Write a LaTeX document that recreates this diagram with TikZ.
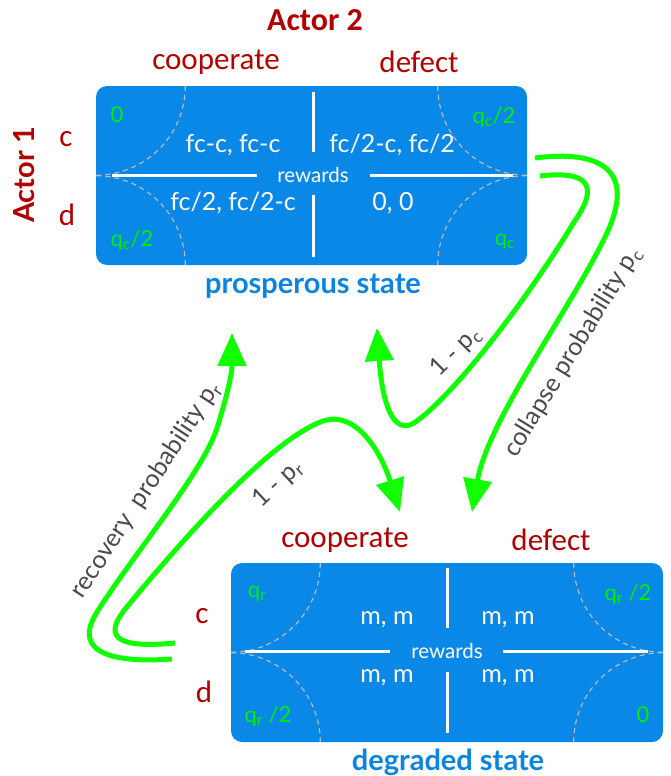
\documentclass[tikz,border=0pt]{standalone}
\usepackage{fontspec}
\setmainfont{Lato}
\newfontfamily\carl{Carlito}
\usetikzlibrary{arrows.meta}
\definecolor{boxblue}{HTML}{0A88E8}
\definecolor{ttlblue}{HTML}{0A84E0}
\definecolor{actred}{HTML}{B00000}
\definecolor{cgreen}{HTML}{00EE00}
\definecolor{agreen}{HTML}{11FF00}
\definecolor{lblgray}{HTML}{4A4A4A}
\newcommand\sbs[1]{\textsubscript{#1}}
\begin{document}
\begin{tikzpicture}[x=1pt,y=-1pt,
  statebox/.style={fill=boxblue, rounded corners=11pt, minimum width=431pt, minimum height=179pt, inner sep=0pt},
  sepline/.style={draw=white, line width=3pt},
  arcline/.style={draw=gray!50, dash pattern=on 5pt off 4pt, line width=1.1pt},
  cell/.style={text=white, font=\fontsize{25}{28}\selectfont, inner sep=0pt},
  rew/.style={text=white, font=\fontsize{20.5}{22}\selectfont, inner sep=0pt},
  corner/.style={text=cgreen, font=\fontsize{22}{24}\selectfont, inner sep=0pt},
  act/.style={text=actred, font=\carl\fontsize{31}{33}\selectfont, inner sep=0pt},
  actb/.style={text=actred, font=\carl\bfseries\fontsize{32}{34}\selectfont, inner sep=0pt},
  ttl/.style={text=ttlblue, font=\bfseries\fontsize{29}{31}\selectfont, inner sep=0pt},
  flow/.style={draw=agreen, line width=5pt, -{Triangle[length=33pt,width=28pt]}},
  flowlbl/.style={text=lblgray, font=\fontsize{25}{27}\selectfont, inner sep=0pt},
]
\useasboundingbox (0,0) rectangle (671,776);

% ---------- prosperous state ----------
\node[statebox] (top) at (311.5,175.5) {};
\draw[arcline] ([xshift=89.5pt]top.north west) arc[start angle=0,end angle=-90,radius=89.5pt];
\draw[arcline] ([xshift=-89.5pt]top.north east) arc[start angle=180,end angle=270,radius=89.5pt];
\draw[arcline] ([xshift=89.5pt]top.south west) arc[start angle=0,end angle=90,radius=89.5pt];
\draw[arcline] ([xshift=-89.5pt]top.south east) arc[start angle=180,end angle=90,radius=89.5pt];
\draw[sepline] (313,92) -- (313,152);
\draw[sepline] (313,195) -- (313,257);
\draw[sepline] (112,175) -- (257,175);
\draw[sepline] (370,175) -- (513,175);
\node[rew] (trew) at (313,175) {rewards};
\node[cell] (tcc) at (233,145) {fc-c, fc-c};
\node[cell] (tcd) at (392,145) {fc/2-c, fc/2};
\node[cell] (tdc) at (233,203) {fc/2, fc/2-c};
\node[cell] (tdd) at (393,203) {0, 0};
\node[corner] (tq1) at (117,115) {0};
\node[corner] (tq2) at (494,117) {q\sbs{c}/2};
\node[corner] (tq3) at (132,240) {q\sbs{c}/2};
\node[corner] (tq4) at (505,242) {q\sbs{c}};
\node[ttl] (tname) at (313,286) {prosperous state};

\node[actb] (a2) at (315,20) {Actor 2};
\node[act] (tcoop) at (216,62) {cooperate};
\node[act] (tdef) at (419,62) {defect};
\node[text=actred, font=\bfseries\fontsize{29}{31}\selectfont, inner sep=0pt, rotate=90] (a1) at (24,175) {Actor 1};
\node[act] (tc) at (66,139) {c};
\node[act] (td) at (67,215) {d};

% ---------- degraded state ----------
\node[statebox, minimum width=432pt] (bot) at (447,652.5) {};
\draw[arcline] ([xshift=89.5pt]bot.north west) arc[start angle=0,end angle=-90,radius=89.5pt];
\draw[arcline] ([xshift=-89.5pt]bot.north east) arc[start angle=180,end angle=270,radius=89.5pt];
\draw[arcline] ([xshift=89.5pt]bot.south west) arc[start angle=0,end angle=90,radius=89.5pt];
\draw[arcline] ([xshift=-89.5pt]bot.south east) arc[start angle=180,end angle=90,radius=89.5pt];
\draw[sepline] (447,568) -- (447,628);
\draw[sepline] (447,672) -- (447,733);
\draw[sepline] (245,651) -- (390,651);
\draw[sepline] (503,651) -- (648,651);
\node[rew] (brew) at (447,651) {rewards};
\node[cell] (bcc) at (387,620) {m, m};
\node[cell] (bcd) at (508,620) {m, m};
\node[cell] (bdc) at (387,678) {m, m};
\node[cell] (bdd) at (508,678) {m, m};
\node[corner] (bq1) at (257,594) {q\sbs{r}};
\node[corner] (bq2) at (628,594) {q\sbs{r} /2};
\node[corner] (bq3) at (268,716) {q\sbs{r} /2};
\node[corner] (bq4) at (643,715) {0};
\node[ttl] (bname) at (448,762) {degraded state};

\node[act] (bcoop) at (345,540) {cooperate};
\node[act] (bdef) at (551,540) {defect};
\node[act] (bc) at (202,616) {c};
\node[act] (bd) at (204,692) {d};

% ---------- transitions ----------
\coordinate (s1) at (535,158);
\coordinate (e1) at (472,512);
\coordinate (s2) at (540,176);
\coordinate (e2) at (377,328);
\coordinate (s3) at (172,659);
\coordinate (e3) at (232,333);
\coordinate (s4) at (175,643);
\coordinate (e4) at (400,512);

\draw[flow] (s1) .. controls (598,150) and (638,168) .. (606,235)
  .. controls (570,310) and (488,420) .. (e1);
\draw[flow] (s2) .. controls (592,170) and (598,188) .. (574,222)
  .. controls (530,295) and (455,395) .. (414,423)
  .. controls (392,436) and (382,400) .. (e2);
\draw[flow] (s3) .. controls (118,663) and (70,655) .. (97,612)
  .. controls (135,552) and (205,470) .. (218,425)
  .. controls (227,395) and (232,375) .. (e3);
\draw[flow] (s4) .. controls (122,648) and (100,640) .. (126,608)
  .. controls (182,540) and (270,440) .. (323,421)
  .. controls (356,410) and (381,452) .. (e4);

\node[flowlbl, rotate=58.6] (l1) at (573,352) {collapse probability p\sbs{c}};
\node[flowlbl, rotate=45] (l2) at (456,352) {1 - p\sbs{c}};
\node[flowlbl, rotate=56.8] (l3) at (146,490) {recovery\ \ probability p\sbs{r}};
\node[flowlbl, rotate=43] (l4) at (278,484) {1 - p\sbs{r}};
\end{tikzpicture}
\end{document}
